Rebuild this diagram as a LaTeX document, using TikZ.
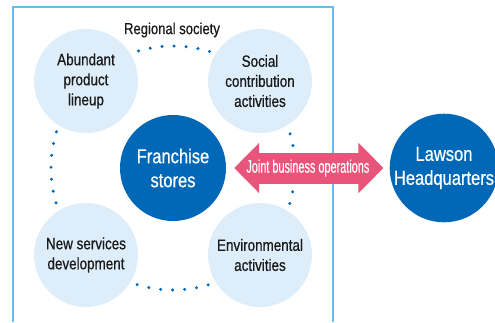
\documentclass[tikz,border=0pt]{standalone}
\usepackage{fontspec}
\setmainfont{Liberation Sans}[FakeStretch=0.82, FakeBold=0.6]
\newfontfamily\narrowfont{Liberation Sans}[FakeStretch=0.6, FakeBold=0.4]
\usepackage{tikz}
\usetikzlibrary{arrows.meta, positioning}
\definecolor{lawsonblue}{RGB}{0,104,183}
\definecolor{paleblue}{RGB}{221,238,250}
\definecolor{framecyan}{RGB}{100,190,235}
\definecolor{jointpink}{RGB}{232,84,122}
\definecolor{textblack}{RGB}{26,26,26}
\tikzset{
  activity/.style = {circle, fill=paleblue, inner sep=0pt, minimum size=3.12cm,
                     align=center, text=textblack,
                     font=\fontsize{14pt}{17.1pt}\selectfont},
  core/.style     = {circle, fill=lawsonblue, inner sep=0pt, minimum size=3.18cm,
                     align=center, text=white,
                     font=\fontsize{17.2pt}{20.5pt}\selectfont},
  ring/.style     = {draw=lawsonblue, line width=0.1cm, line cap=round,
                     dash pattern=on 0pt off 0.36cm},
  frame/.style    = {draw=framecyan, line width=0.045cm},
  jointarr/.style = {draw=jointpink, line width=0.93cm,
                     {Triangle[width=1.47cm, length=0.75cm]}-{Triangle[width=1.47cm, length=0.75cm]}},
}
\begin{document}
\begin{tikzpicture}[x=0.03cm, y=-0.03cm]
  \useasboundingbox (0,0) rectangle (495,322);
  % regional society frame
  \draw[frame] (13,322) -- (13,7) -- (333,7) -- (333,322);
  \node[font=\fontsize{13.6pt}{15pt}\selectfont, text=textblack] (region) at (172,30) {Regional society};

  % dotted ring round the franchise stores
  \node[core] (fr) at (173,168) {Franchise\\stores};
  \draw[ring] (fr.center) circle[radius=122];

  \node[activity] (prod) at (86,81)   {Abundant\\product\\lineup};
  \node[activity] (soc)  at (260,81)  {Social\\contribution\\activities};
  \node[activity] (serv) at (86,255)  {New services\\development};
  \node[activity] (env)  at (260,255) {Environmental\\activities};

  \node[core] (hq) at (444,168) {Lawson\\Headquarters};

  \draw[jointarr, shorten <=0.24cm, shorten >=0.18cm] (fr.east) -- (hq.west)
        node[midway, text=white, font=\narrowfont\fontsize{15.5pt}{17pt}\selectfont] {Joint business operations};
\end{tikzpicture}
\end{document}
